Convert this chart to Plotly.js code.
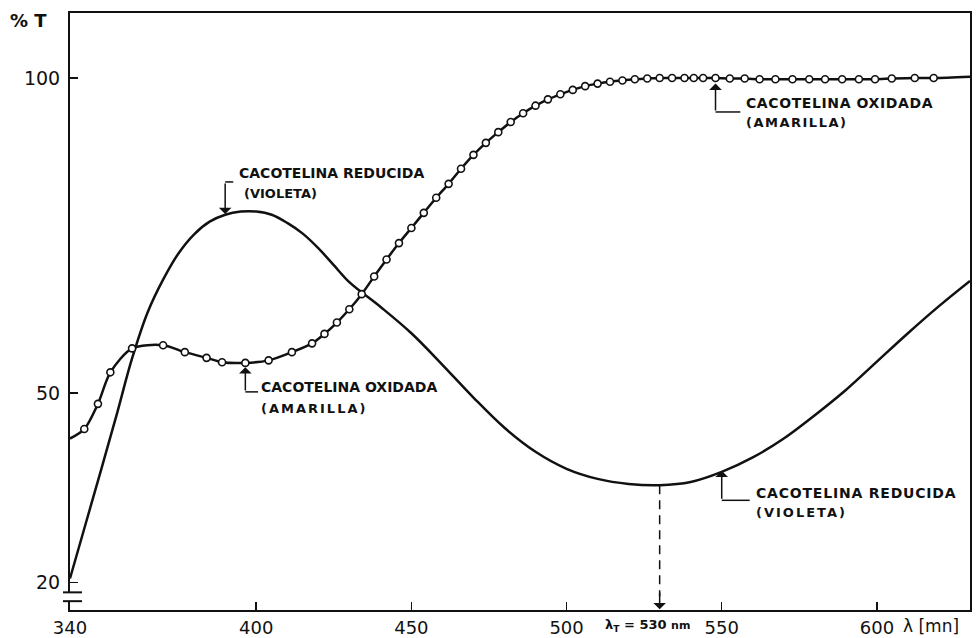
<!DOCTYPE html>
<html>
<head>
<meta charset="utf-8">
<script src="https://cdn.plot.ly/plotly-3.0.1.min.js"></script>
<style>
  html, body { margin: 0; padding: 0; background: #fff; }
  #chart { width: 980px; height: 638px; }
</style>
</head>
<body>
<div id="chart"></div>
<script>
// Wavelength axis ticks (nm) and %T ticks
const xTicks = [340, 400, 450, 500, 550, 600];
const yTicks = [20, 50, 100];

// Reduced cacoteline (violet): transmittance vs wavelength
const redWl = [340, 345, 350, 355, 360, 365, 370, 375, 380, 385, 390, 395, 400, 405, 410, 415, 420, 425, 430,
               440, 450, 460, 470, 480, 490, 500, 510, 520, 530, 540, 550, 560, 570, 580, 590, 600, 610, 620, 630];
const redT  = [20.6, 29.2, 37.8, 46.5, 55.5, 62.8, 68.0, 72.2, 75.2, 77.2, 78.3, 78.8, 78.8, 78.3, 77.0, 75.3, 73.0, 70.3, 67.6,
               63.7, 59.5, 54.5, 49.3, 44.5, 40.7, 38.0, 36.4, 35.6, 35.4, 35.9, 37.5, 39.8, 42.8, 46.5, 50.5, 55.0, 59.5, 63.8, 67.8];

// Oxidized cacoteline (yellow): measured points (open circles)
const oxWl = [340, 344.6, 349, 353, 360, 370, 377, 384, 389, 396.5, 404, 411.5, 418,
              422, 426, 430, 434, 438, 442, 446, 450, 454, 458, 462, 466, 470, 474, 478, 482, 486, 490,
              494, 498, 502, 506, 510, 514, 518, 522, 526, 530, 534, 538, 541, 544, 548,
              552.6, 557.4, 562.2, 567.3, 572.8, 578.2, 583.3, 588.8, 594.2, 599.4, 604.8, 612.2, 618.3, 630];
const oxT  = [42.8, 44.3, 48.3, 53.3, 57.1, 57.6, 56.5, 55.6, 54.9, 54.8, 55.2, 56.5, 57.9,
              59.4, 61.2, 63.3, 65.7, 68.5, 71.2, 73.8, 76.2, 78.6, 81.0, 83.2, 85.6, 87.8, 89.7, 91.4, 93.0, 94.4, 95.6,
              96.6, 97.4, 98.1, 98.7, 99.1, 99.4, 99.6, 99.8, 99.9, 100, 100, 100, 100, 100, 100,
              99.9, 99.9, 99.8, 99.8, 99.8, 99.8, 99.8, 99.8, 99.8, 99.8, 99.9, 100, 100, 100.2];

// Transition wavelength
const lambdaT = 530;
const lambdaTValue = 35.4;

const ink = '#111';
const labelFont = { family: 'DejaVu Sans', size: 14, color: ink, weight: 'bold' };
const subFont = { family: 'DejaVu Sans', size: 13, color: ink, weight: 'bold' };

// circles at every measured point except the curve's end points on the frame
const oxOpacity = oxWl.map((w, i) => i === 0 || i === oxWl.length - 1 ? 0 : 1);

const traces = [
  {
    x: redWl, y: redT, type: 'scatter', mode: 'lines',
    line: { color: ink, width: 2.5, shape: 'spline', smoothing: 1 },
    hoverinfo: 'skip'
  },
  {
    x: oxWl, y: oxT, type: 'scatter', mode: 'lines+markers',
    line: { color: ink, width: 2.5, shape: 'spline', smoothing: 0.8 },
    marker: { symbol: 'circle', size: 7, color: '#fff', opacity: oxOpacity,
              line: { color: ink, width: 1.6 } },
    hoverinfo: 'skip'
  }
];

function arrow(xTip, yTip, xTail, yTail) {
  return { x: xTip, y: yTip, ax: xTail, ay: yTail, axref: 'x', ayref: 'y', xref: 'x', yref: 'y',
           text: '', showarrow: true, arrowhead: 1, arrowsize: 1.4, arrowwidth: 1.5, arrowcolor: ink };
}
function label(x, y, text, font) {
  return { x: x, y: y, xref: 'x', yref: 'y', text: text, showarrow: false,
           xanchor: 'left', yanchor: 'middle', font: font };
}
function leader(x0, y0, x1, y1) {
  return { type: 'line', xref: 'x', yref: 'y', x0: x0, y0: y0, x1: x1, y1: y1,
           line: { color: ink, width: 1.5 } };
}

const annotations = [
  // reduced form, near its maximum
  arrow(390, 78.4, 390, 83.5),
  label(393.8, 84.9, 'CACOTELINA REDUCIDA', labelFont),
  label(395.5, 81.7, '(VIOLETA)', subFont),
  // oxidized form, near its shoulder
  arrow(396.5, 54.1, 396.5, 50.2),
  label(401.0, 51.0, 'CACOTELINA OXIDADA', labelFont),
  label(401.0, 47.6, '<span style="letter-spacing:2px">(AMARILLA)</span>', subFont),
  // oxidized form, plateau
  arrow(548, 99.1, 548, 94.6),
  label(557.2, 96.0, '<span style="letter-spacing:0.6px">CACOTELINA OXIDADA</span>', labelFont),
  label(557.2, 92.9, '<span style="letter-spacing:1.5px">(AMARILLA)</span>', subFont),
  // reduced form, near its minimum
  arrow(550, 37.7, 550, 33.0),
  label(560.4, 34.1, '<span style="letter-spacing:0.8px">CACOTELINA REDUCIDA</span>', labelFont),
  label(560.4, 31.1, '<span style="letter-spacing:2px">(VIOLETA)</span>', subFont),
  // transition wavelength marker
  { x: lambdaT, y: 15.7, ax: lambdaT, ay: 18.6, axref: 'x', ayref: 'y', xref: 'x', yref: 'y',
    text: '', showarrow: true, arrowhead: 1, arrowsize: 1.4, arrowwidth: 1.5, arrowcolor: ink },
  { x: 526, y: -0.026, xref: 'x', yref: 'paper', yanchor: 'middle', xanchor: 'center', showarrow: false,
    text: '<b>λ<sub>T</sub></b> = 530 <span style="font-size:11px">nm</span>',
    font: { family: 'DejaVu Sans', size: 13, color: ink, weight: 'bold' } },
  // axis captions
  { x: -0.046, y: 0.988, xref: 'paper', yref: 'paper', xanchor: 'center', yanchor: 'middle', showarrow: false,
    text: '% T', font: { family: 'DejaVu Sans', size: 18, color: ink, weight: 'bold' } },
  { x: 0.957, y: -0.026, xref: 'paper', yref: 'paper', xanchor: 'center', yanchor: 'middle', showarrow: false,
    text: 'λ [mn]', font: { family: 'DejaVu Sans', size: 17, color: ink } }
];

const shapes = [
  leader(390, 83.5, 392.6, 83.5),
  leader(396.5, 50.2, 400.6, 50.2),
  leader(548, 94.6, 556, 94.6),
  leader(550, 33.0, 559, 33.0),
  // dashed drop line from the minimum of the reduced curve
  { type: 'line', xref: 'x', yref: 'y', x0: lambdaT, x1: lambdaT, y0: lambdaTValue, y1: 17.8,
    line: { color: ink, width: 1.5, dash: '9px,6px' } },
  // axis break on the %T axis
  { type: 'rect', xref: 'paper', xsizemode: 'pixel', xanchor: 0, x0: -3, x1: 3, yref: 'y', y0: 17.05, y1: 18.35,
    fillcolor: '#fff', line: { width: 0 }, layer: 'above' },
  { type: 'line', xref: 'paper', xsizemode: 'pixel', xanchor: 0, x0: -7, x1: 12, yref: 'y', y0: 18.4, y1: 18.4,
    line: { color: ink, width: 2 }, layer: 'above' },
  { type: 'line', xref: 'paper', xsizemode: 'pixel', xanchor: 0, x0: -7, x1: 12, yref: 'y', y0: 17.0, y1: 17.0,
    line: { color: ink, width: 2 }, layer: 'above' }
];

const layout = {
  width: 980, height: 638,
  margin: { l: 70, r: 10, t: 13, b: 28 },
  paper_bgcolor: '#fff', plot_bgcolor: '#fff',
  showlegend: false,
  font: { family: 'DejaVu Sans', color: ink },
  xaxis: {
    range: [340, 630], tickvals: xTicks, ticktext: xTicks.map(String),
    showgrid: false, zeroline: false, showline: true, linecolor: ink, linewidth: 2, mirror: true,
    ticks: 'inside', ticklen: 8, tickwidth: 1.5, tickcolor: ink,
    tickfont: { family: 'DejaVu Sans', size: 18, color: ink }, ticklabelstandoff: 0
  },
  yaxis: {
    range: [15.6, 110.3], tickvals: yTicks, ticktext: yTicks.map(String),
    showgrid: false, zeroline: false, showline: true, linecolor: ink, linewidth: 2, mirror: true,
    ticks: 'inside', ticklen: 8, tickwidth: 1.5, tickcolor: ink,
    tickfont: { family: 'DejaVu Sans', size: 19, color: ink }, ticklabelstandoff: 4
  },
  annotations: annotations,
  shapes: shapes
};

Plotly.newPlot('chart', traces, layout, { staticPlot: true, displayModeBar: false });
</script>
</body>
</html>
